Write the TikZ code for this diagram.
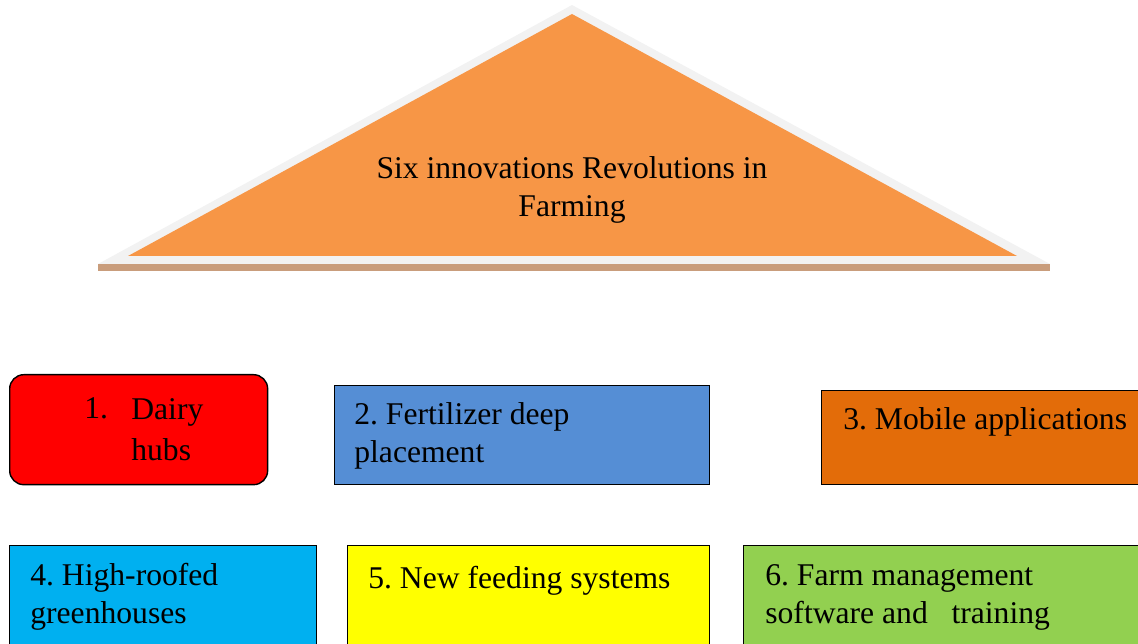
\documentclass[tikz,border=0pt]{standalone}
\usepackage{fontspec}
\setmainfont{Liberation Serif}
\frenchspacing
\definecolor{roofgray}{HTML}{F2F2F2}
\definecolor{rooforange}{HTML}{F79646}
\definecolor{rooftan}{HTML}{C99D7C}
\definecolor{dairyred}{HTML}{FF0000}
\definecolor{fertblue}{HTML}{558ED5}
\definecolor{mobileorange}{HTML}{E36C09}
\definecolor{greencyan}{HTML}{00B0F0}
\definecolor{feedyellow}{HTML}{FFFF00}
\definecolor{softgreen}{HTML}{92D050}
\begin{document}
\begin{tikzpicture}[x=0.02cm, y=-0.02cm,
    box/.style={draw=black, line width=0.8pt, anchor=north west, inner sep=0pt},
    txt/.style={anchor=base west, inner sep=0pt, align=left,
                font=\fontsize{18}{21.5}\selectfont\frenchspacing}]
  \clip (0,0) rectangle (1138,644);

  % roof
  \fill[rooftan] (98,264) rectangle (1050,271);
  \fill[roofgray] (572,5) -- (1050,264) -- (98,264) -- cycle;
  \fill[rooforange] (572,14) -- (1017,256) -- (128,256) -- cycle;
  \node[inner sep=0pt, align=center, anchor=base,
        font=\fontsize{18}{22}\selectfont] (title) at (572,217)
        {Six innovations Revolutions in\\Farming};

  % first row (base anchor sits on the last line)
  \node[box, fill=dairyred, rounded corners=8pt,
        minimum width=5.16cm, minimum height=2.2cm] (b1) at (9,374){};
  \node[box, fill=fertblue, minimum width=7.5cm, minimum height=1.98cm] (b2) at (334,385){};
  \node[box, fill=mobileorange, minimum width=6.6cm, minimum height=1.88cm] (b3) at (821,390){};
  \node[txt] (t1n) at (84,419){1.};
  \node[txt, font=\fontsize{18}{23.3}\selectfont] (t1) at (131,460){Dairy\\hubs};
  \node[txt] (t2) at (354,462){2. Fertilizer deep\\placement};
  \node[txt] (t3) at (843,430){3. Mobile applications};

  % second row
  \node[box, fill=greencyan, minimum width=6.14cm, minimum height=2.2cm] (b4) at (9,545){};
  \node[box, fill=feedyellow, minimum width=7.24cm, minimum height=2.2cm] (b5) at (347,545){};
  \node[box, fill=softgreen, minimum width=8.2cm, minimum height=2.2cm] (b6) at (743,545){};
  \node[txt] (t4) at (30,623){4. High-roofed\\greenhouses};
  \node[txt] (t5) at (368,588){5. New feeding systems};
  \node[txt] (t6) at (765,623){6. Farm management\\software and \ \ training};
\end{tikzpicture}
\end{document}
